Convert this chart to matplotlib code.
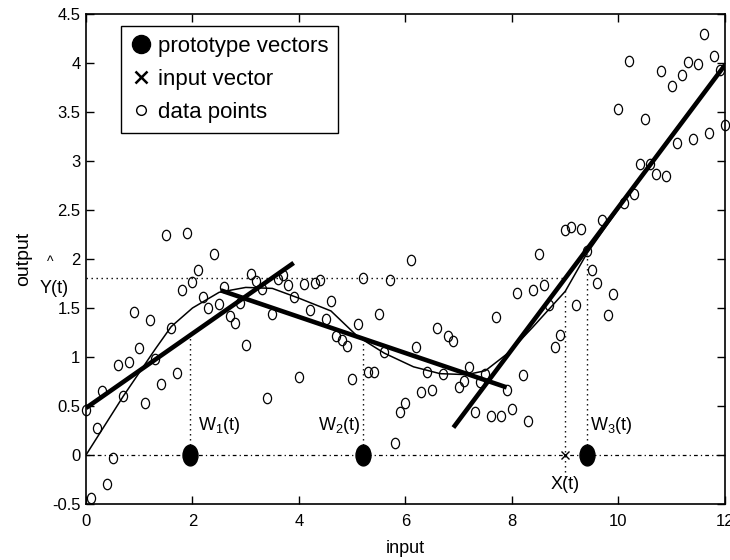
import matplotlib
matplotlib.use("Agg")
import matplotlib.pyplot as plt
from matplotlib.lines import Line2D
from matplotlib.markers import MarkerStyle
from matplotlib.transforms import Affine2D


NARROW = ["Liberation Sans Narrow", "Liberation Sans", "DejaVu Sans"]
REGULAR = ["Liberation Sans", "DejaVu Sans"]

# noisy samples, one every 0.1 along the input axis
DATA_X = [
    0.0, 0.1, 0.2, 0.3, 0.4, 0.5, 0.6, 0.7, 0.8, 0.9,
    1.0, 1.1, 1.2, 1.3, 1.4, 1.5, 1.6, 1.7, 1.8, 1.9,
    2.0, 2.1, 2.2, 2.3, 2.4, 2.5, 2.6, 2.7, 2.8, 2.9,
    3.0, 3.1, 3.2, 3.3, 3.4, 3.5, 3.6, 3.7, 3.8, 3.9,
    4.0, 4.1, 4.2, 4.3, 4.4, 4.5, 4.6, 4.7, 4.8, 4.9,
    5.0, 5.1, 5.2, 5.3, 5.4, 5.5, 5.6, 5.7, 5.8, 5.9,
    6.0, 6.1, 6.2, 6.3, 6.4, 6.5, 6.6, 6.7, 6.8, 6.9,
    7.0, 7.1, 7.2, 7.3, 7.4, 7.5, 7.6, 7.7, 7.8, 7.9,
    8.0, 8.1, 8.2, 8.3, 8.4, 8.5, 8.6, 8.7, 8.8, 8.9,
    9.0, 9.1, 9.2, 9.3, 9.4, 9.5, 9.6, 9.7, 9.8, 9.9,
    10.0, 10.1, 10.2, 10.3, 10.4, 10.5, 10.6, 10.7, 10.8, 10.9,
    11.0, 11.1, 11.2, 11.3, 11.4, 11.5, 11.6, 11.7, 11.8, 11.9,
    12.0,
]
DATA_Y = [
    0.46, -0.44, 0.28, 0.65, -0.30, -0.03, 0.92, 0.60, 0.95, 1.46,
    1.09, 0.53, 1.38, 0.98, 0.72, 2.24, 1.30, 0.84, 1.68, 2.27,
    1.77, 1.89, 1.61, 1.50, 2.05, 1.54, 1.71, 1.42, 1.35, 1.55,
    1.12, 1.85, 1.78, 1.69, 0.58, 1.44, 1.80, 1.84, 1.73, 1.61,
    0.80, 1.74, 1.48, 1.76, 1.79, 1.39, 1.57, 1.21, 1.17, 1.11,
    0.78, 1.34, 1.81, 0.85, 0.85, 1.44, 1.05, 1.79, 0.12, 0.44,
    0.53, 1.99, 1.10, 0.64, 0.85, 0.66, 1.30, 0.83, 1.21, 1.16,
    0.69, 0.76, 0.90, 0.44, 0.74, 0.83, 0.40, 1.41, 0.40, 0.66,
    0.47, 1.65, 0.82, 0.35, 1.68, 2.05, 1.73, 1.53, 1.10, 1.22,
    2.30, 2.33, 1.53, 2.31, 2.08, 1.89, 1.76, 2.40, 1.43, 1.64,
    3.53, 2.57, 4.02, 2.66, 2.97, 3.43, 2.97, 2.87, 3.92, 2.85,
    3.77, 3.18, 3.88, 4.01, 3.22, 3.99, 4.30, 3.29, 4.07, 3.93,
    3.37,
]

# underlying smooth function (thin line)
CURVE_X = [0.0, 0.7, 1.3, 1.6, 2.0, 2.5, 3.0, 3.5, 4.0, 4.6, 5.1, 5.6, 6.15,
           6.65, 7.15, 7.5, 7.95, 8.4, 9.0, 9.4, 10.05, 10.5, 11.0, 11.5, 12.0]
CURVE_Y = [0.0, 0.60, 1.08, 1.31, 1.50, 1.66, 1.71, 1.70, 1.60, 1.47, 1.21, 1.04, 0.90,
           0.83, 0.82, 0.86, 1.05, 1.31, 1.67, 2.05, 2.55, 2.90, 3.27, 3.63, 3.98]

# local linear models (thick lines), start and end points
LOCAL_X = [[0.0, 3.9], [2.53, 7.9], [6.9, 12.0]]
LOCAL_Y = [[0.48, 1.96], [1.68, 0.69], [0.28, 3.98]]

PROTO_X = [1.95, 5.2, 9.4]
PROTO_TOP = [1.21, 1.19, 2.05]
PROTO_LABELS = ["W$_1$(t)", "W$_2$(t)", "W$_3$(t)"]
PROTO_LABEL_X = [2.1, 4.35, 9.47]

INPUT_X = 9.0
INPUT_TOP = 1.70
Y_HAT = 1.81

X_TICKS = [0, 2, 4, 6, 8, 10, 12]
Y_TICKS = [-0.5, 0, 0.5, 1, 1.5, 2, 2.5, 3, 3.5, 4, 4.5]
Y_TICK_LABELS = ["-0.5", "0", "0.5", "1", "1.5", "2", "2.5", "3", "3.5", "4", "4.5"]


def main() -> None:
    plt.rcParams["mathtext.fontset"] = "custom"
    plt.rcParams["mathtext.rm"] = "Liberation Sans"
    plt.rcParams["mathtext.default"] = "rm"

    fig = plt.figure(figsize=(7.3, 5.6), dpi=100)
    ax = fig.add_axes([0.1178, 0.1, 0.8753, 0.875])

    small_oval = MarkerStyle("o", transform=Affine2D().scale(0.78, 1.0))
    big_oval = MarkerStyle("o", transform=Affine2D().scale(0.72, 1.0))
    dots = (0, (1, 2.6))

    # zero line and guide lines
    ax.plot([0, 12], [0, 0], color="black", lw=0.9, linestyle=(0, (3, 2.5, 1, 2.5)))
    ax.plot([0, INPUT_X], [Y_HAT, Y_HAT], color="black", lw=1.0, linestyle=dots)
    ax.plot([INPUT_X, INPUT_X], [-0.22, INPUT_TOP], color="black", lw=1.0, linestyle=dots)
    for px, top in zip(PROTO_X, PROTO_TOP):
        ax.plot([px, px], [0, top], color="black", lw=1.0, linestyle=dots)

    ax.plot(CURVE_X, CURVE_Y, color="black", lw=1.1)
    for lx, ly in zip(LOCAL_X, LOCAL_Y):
        ax.plot(lx, ly, color="black", lw=3.3, solid_capstyle="butt")

    ax.plot(DATA_X, DATA_Y, linestyle="none", marker=small_oval, markersize=7.5,
            markerfacecolor="none", markeredgecolor="black", markeredgewidth=0.9,
            clip_on=False)
    ax.plot(PROTO_X, [0, 0, 0], linestyle="none", marker=big_oval, markersize=15,
            color="black", clip_on=False)
    ax.plot([INPUT_X], [0], linestyle="none", marker="x", markersize=6,
            markeredgewidth=1.0, color="black")

    for lbl, lx in zip(PROTO_LABELS, PROTO_LABEL_X):
        ax.text(lx, 0.3, lbl, fontsize=13, family=NARROW, va="center", ha="left")
    ax.text(INPUT_X, -0.3, "X(t)", fontsize=13, family=NARROW, va="center", ha="center")
    ax.text(-0.68, 1.97, "^", fontsize=10, family=NARROW, va="center", ha="center", clip_on=False)
    ax.text(-0.6, 1.70, "Y(t)", fontsize=13, family=NARROW, va="center", ha="center", clip_on=False)

    ax.set_xlim(0, 12)
    ax.set_ylim(-0.5, 4.5)
    ax.set_xticks(X_TICKS)
    ax.set_xticklabels([str(t) for t in X_TICKS])
    ax.set_yticks(Y_TICKS)
    ax.set_yticklabels(Y_TICK_LABELS)
    ax.tick_params(direction="in", length=6, width=1.0, top=True, right=True,
                   labelsize=12)
    ax.tick_params(axis="x", pad=7)
    ax.tick_params(axis="y", pad=4)
    for lab in ax.get_xticklabels() + ax.get_yticklabels():
        lab.set_family(NARROW)
    for sp in ax.spines.values():
        sp.set_linewidth(1.2)

    ax.set_xlabel("input", fontsize=13, family=NARROW, labelpad=8)
    ax.set_ylabel("output", fontsize=14, family=REGULAR, labelpad=14)

    handles = [
        Line2D([], [], linestyle="none", marker="o", markersize=13, color="black"),
        Line2D([], [], linestyle="none", marker="x", markersize=9, markeredgewidth=1.8, color="black"),
        Line2D([], [], linestyle="none", marker="o", markersize=7, markerfacecolor="none",
               markeredgecolor="black", markeredgewidth=1.0),
    ]
    labels = ["prototype vectors", "input vector", "data points"]
    leg = ax.legend(handles, labels, loc="upper left", bbox_to_anchor=(0.055, 0.976),
                    borderaxespad=0, fancybox=False, edgecolor="black", framealpha=1,
                    prop={"family": REGULAR, "size": 16}, handlelength=0.9,
                    handletextpad=0.3, labelspacing=0.55, borderpad=0.45)
    leg.get_frame().set_linewidth(1.0)

    fig.savefig("out.png", dpi=100)
    plt.close(fig)


if __name__ == "__main__":
    main()
